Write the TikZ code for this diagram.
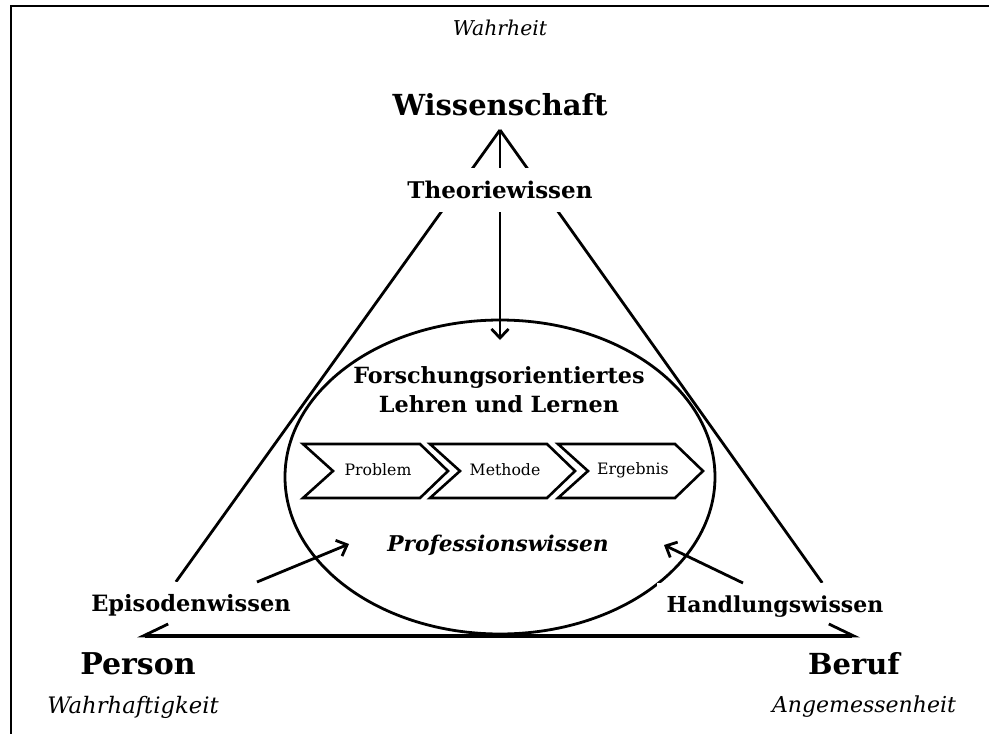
\documentclass[tikz,border=0pt]{standalone}
\usepackage{fontspec}
\setmainfont{DejaVu Serif}
\usetikzlibrary{arrows.meta,backgrounds}
\tikzset{
  pole/.style={font=\bfseries\fontsize{30}{34}\selectfont, inner sep=0pt},
  value/.style={font=\itshape\fontsize{22}{26}\selectfont, inner sep=0pt},
  know/.style={font=\bfseries\fontsize{22.5}{26}\selectfont, fill=white, inner xsep=10pt, inner ysep=0pt},
  title/.style={font=\bfseries\fontsize{22.3}{29}\selectfont, align=center, inner sep=0pt},
  steplabel/.style={font=\fontsize{15.7}{18}\selectfont, inner sep=0pt},
  chevron/.style={line width=2.6pt, line join=miter},
  side/.style={line width=2.8pt},
  arr/.style={line width=2.8pt, -{Straight Barb[length=9pt,width=17pt,line width=2.8pt]}},
  base/.style={line width=3.6pt, {Straight Barb[harpoon,swap,length=25pt,width=24pt,line width=2.8pt]}-{Straight Barb[harpoon,length=25pt,width=24pt,line width=2.8pt]}},
}
\begin{document}
\begin{tikzpicture}[x=1pt,y=-1pt]
\useasboundingbox (0,0) rectangle (989,734);
% frame
\draw[line width=2.6pt] (11,734) -- (11,6) -- (989,6);

% labels
\node[value, font=\itshape\fontsize{20.4}{24}\selectfont] (wahrheit) at (500,28) {Wahrheit};
\node[pole, font=\bfseries\fontsize{29}{34}\selectfont] (wiss) at (500,105) {Wissenschaft};
\coordinate (apex) at (500,130);
\node[know, font=\bfseries\fontsize{23}{26}\selectfont, minimum height=44pt] (theo) at (500,190) {Theoriewissen};
\node[know, minimum height=46pt] (epi) at (191,605) {Episodenwissen};
\node[know, font=\bfseries\fontsize{22}{26}\selectfont, minimum height=48pt] (hand) at (775,607) {Handlungswissen};
\node[pole] (person) at (138,664) {Person};
\node[pole, font=\bfseries\fontsize{29}{34}\selectfont] (beruf) at (854,664) {Beruf};
\node[value, font=\itshape\fontsize{22.7}{26}\selectfont] (wahrhaft) at (133,707) {Wahrhaftigkeit};
\node[value] (angem) at (864,707) {Angemessenheit};

\node[title] (fol) at (499,390) {Forschungsorientiertes\\Lehren und Lernen};
\node[font=\bfseries\itshape\fontsize{21.7}{26}\selectfont, inner sep=0pt] (prof) at (498,545) {Professionswissen};

% chevrons
\foreach \L/\t/\n in {303/Problem/p, 430/Methode/m, 558/Ergebnis/e}{
  \draw[chevron] (\L,444) -- ++(117,0) -- ++(28,27) -- ++(-28,27) -- ++(-117,0) -- ++(30,-27) -- cycle;
  \node[steplabel] (\n) at (\L+75,470) {\t};
}

\coordinate (ellc) at (500,477);
\coordinate (ptip) at (500,340);
\coordinate (etail) at (257,582);
\coordinate (etip) at (349,544);
\coordinate (htail) at (743,583);
\coordinate (htip) at (664,545);
\coordinate (pc) at (137,636);
\coordinate (bc) at (860,636);

\begin{scope}[on background layer]
  \draw[line width=2.8pt] (ellc) ellipse [x radius=215, y radius=157];
  \draw[side] (apex) -- (intersection of apex--pc and epi.north west--epi.north east);
  \draw[side] (apex) -- (intersection of apex--bc and hand.north west--hand.north east);
  \draw[arr] (apex) -- (ptip);
\end{scope}
\draw[arr] (etail) -- (etip);
\draw[arr] (htail) -- (htip);
\draw[base] (pc) -- (bc);
\end{tikzpicture}
\end{document}
